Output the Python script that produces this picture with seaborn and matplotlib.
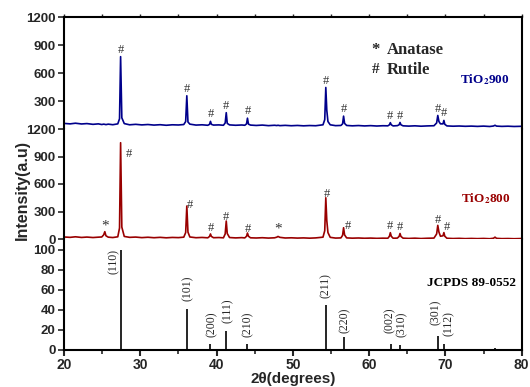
import numpy as np
import pandas as pd
import matplotlib
matplotlib.use("Agg")
import matplotlib.pyplot as plt
from matplotlib.ticker import MultipleLocator
import seaborn as sns

# ---------------- data ----------------
two_theta = [
    20.0, 20.8, 21.5, 22.3, 23.0, 23.8, 24.5, 24.95, 25.2, 25.35,
    25.5, 25.8, 26.4, 27.05, 27.28, 27.42, 27.58, 27.9, 28.6, 29.4,
    30.2, 31.0, 31.8, 32.6, 33.4, 34.2, 35.0, 35.7, 35.95, 36.1,
    36.25, 36.5, 37.3, 38.1, 38.85, 39.08, 39.2, 39.32, 39.6, 40.3,
    40.9, 41.13, 41.27, 41.4, 41.7, 42.5, 43.3, 43.7, 43.93, 44.05,
    44.18, 44.45, 45.2, 46.0, 46.8, 47.6, 47.9, 48.05, 48.3, 49.0,
    49.8, 50.6, 51.4, 52.2, 53.0, 53.95, 54.18, 54.32, 54.45, 54.6,
    54.9, 55.6, 56.3, 56.52, 56.65, 56.78, 57.05, 57.8, 58.6, 59.4,
    60.2, 61.0, 61.8, 62.45, 62.66, 62.78, 62.9, 63.15, 63.7, 63.93,
    64.05, 64.17, 64.45, 65.2, 66.0, 66.8, 67.6, 68.5, 68.85, 69.0,
    69.15, 69.35, 69.68, 69.8, 69.92, 70.2, 71.0, 71.8, 72.6, 73.4,
    74.2, 75.0, 75.8, 76.3, 76.5, 76.7, 77.4, 78.2, 79.0, 80.0,
]
intensity_900 = [
    60, 55, 62, 54, 58, 50, 55, 48, 52, 50,
    47, 52, 46, 55, 110, 775, 120, 58, 45, 50,
    44, 48, 42, 46, 40, 45, 43, 48, 80, 356,
    75, 52, 42, 45, 40, 50, 82, 50, 42, 44,
    40, 65, 175, 60, 44, 40, 43, 40, 55, 116,
    52, 42, 38, 42, 36, 40, 37, 40, 36, 39,
    35, 38, 34, 37, 35, 45, 100, 445, 200, 80,
    45, 36, 38, 55, 138, 60, 38, 34, 37, 33,
    36, 32, 35, 34, 45, 68, 45, 33, 36, 45,
    70, 45, 34, 31, 34, 30, 33, 35, 65, 145,
    80, 55, 55, 92, 50, 33, 30, 32, 29, 31,
    28, 31, 27, 32, 40, 31, 28, 30, 27, 29,
]
intensity_800 = [
    22, 18, 24, 17, 21, 16, 20, 22, 45, 80,
    35, 20, 16, 24, 120, 1050, 130, 28, 18, 21,
    15, 19, 14, 18, 13, 17, 15, 20, 70, 360,
    75, 22, 14, 17, 13, 28, 55, 28, 14, 16,
    13, 55, 196, 60, 16, 12, 15, 12, 30, 65,
    30, 13, 11, 14, 10, 13, 20, 28, 18, 11,
    13, 10, 12, 9, 12, 20, 90, 450, 200, 70,
    18, 10, 12, 40, 123, 45, 12, 9, 11, 8,
    10, 7, 9, 8, 30, 69, 30, 8, 10, 28,
    60, 28, 9, 6, 9, 5, 8, 10, 55, 149,
    75, 30, 35, 70, 30, 8, 5, 7, 4, 6,
    4, 6, 3, 8, 20, 7, 4, 5, 3, 5,
]
rutile_peaks = [27.42, 36.1, 39.2, 41.27, 44.05, 54.32, 56.65, 62.78, 64.05, 69.0, 69.8]
anatase_peaks_800 = [25.35, 48.05]

jcpds_pos = [27.45, 36.09, 39.19, 41.25, 44.05, 54.32, 56.64, 62.9, 64.04, 69.01, 69.79, 72.41, 76.51]
jcpds_int = [100, 41, 6, 19, 6, 45, 13, 6, 5, 14, 6, 1.5, 2]
jcpds_hkl = ["(110)", "(101)", "(200)", "(111)", "(210)", "(211)", "(220)",
             "(002)", "(310)", "(301)", "(112)"]

# ---------------- layout (positions only) ----------------
hkl_x = [26.55, 36.2, 39.35, 41.45, 44.1, 54.35, 56.85, 62.65, 64.25, 68.8, 70.5]
hkl_y = [88, 62, 26, 39, 26, 64, 30, 30, 26, 38, 26]
hash_off_900 = [(0, 5)] * 11
hash_off_800 = [(6, -8), (2, 1), (0, 4), (0, 3), (0, 3), (1, 3), (3, 1), (0, 5), (0, 5), (0, 4), (2, 4)]
star_off_800 = [(0, 4), (0, 5)]

BLUE = "#00008B"
RED = "#990000"

sns.set_style("ticks")
plt.rcParams["font.family"] = ["Liberation Sans", "DejaVu Sans"]
plt.rcParams["mathtext.fontset"] = "stix"

df = pd.DataFrame({"two_theta": two_theta, "i900": intensity_900, "i800": intensity_800})

fig = plt.figure(figsize=(5.3, 3.87), dpi=100)
gs = fig.add_gridspec(3, 1, left=64 / 530, right=521.7 / 530, top=1 - 17 / 387,
                      bottom=1 - 350 / 387, hspace=0, height_ratios=[112, 110, 111])
ax_top = fig.add_subplot(gs[0])
ax_mid = fig.add_subplot(gs[1], sharex=ax_top)
ax_bot = fig.add_subplot(gs[2], sharex=ax_top)

sns.lineplot(data=df, x="two_theta", y="i900", ax=ax_top, color=BLUE, lw=1.2, estimator=None)
sns.lineplot(data=df, x="two_theta", y="i800", ax=ax_mid, color=RED, lw=1.2, estimator=None)
ax_bot.vlines(jcpds_pos, 0, jcpds_int, color="black", lw=1.2)

ax_top.set_xlim(20, 80)
ax_top.set_ylim(0, 1200)
ax_mid.set_ylim(0, 1200)
ax_bot.set_ylim(0, 111)

for ax in (ax_top, ax_mid, ax_bot):
    ax.set_xlabel("")
    ax.set_ylabel("")
    for sp in ax.spines.values():
        sp.set_linewidth(1.5)
        sp.set_color("black")
    ax.tick_params(axis="y", direction="out", length=4, width=1.2, labelsize=9.5, pad=2)

ax_top.spines["bottom"].set_visible(False)
ax_mid.spines["top"].set_visible(False)
ax_mid.spines["bottom"].set_visible(False)
ax_bot.spines["top"].set_visible(False)

ax_top.set_yticks([300, 600, 900, 1200])
ax_mid.set_yticks([0, 300, 600, 900, 1200])
ax_bot.set_yticks([0, 20, 40, 60, 80, 100])
for ax in (ax_top, ax_mid, ax_bot):
    for lab in ax.get_yticklabels():
        lab.set_fontweight("bold")
        lab.set_fontsize(9.5)

ax_bot.xaxis.set_major_locator(MultipleLocator(10))
ax_bot.xaxis.set_minor_locator(MultipleLocator(5))
ax_top.tick_params(axis="x", which="both", bottom=False, top=True, labelbottom=False,
                   direction="out", length=2, width=1)
ax_mid.tick_params(axis="x", which="both", bottom=False, top=False, labelbottom=False)
ax_bot.tick_params(axis="x", which="major", direction="out", length=4, width=1.5,
                   labelsize=10, pad=2)
ax_bot.tick_params(axis="x", which="minor", direction="out", length=3, width=1.2)
for lab in ax_bot.get_xticklabels():
    lab.set_fontweight("bold")

ax_bot.set_xlabel("2θ(degrees)", fontsize=11, fontweight="bold", labelpad=0)
fig.text(22 / 530, 1 - 190 / 387, "Intensity(a.u)", rotation=90, ha="center",
         va="center", fontsize=11.5, fontweight="bold")

serif = ["Liberation Serif", "DejaVu Serif"]
mark_kw = dict(family=serif, fontsize=9, color="#333333", ha="center", va="center")

for p, off in zip(rutile_peaks, hash_off_900):
    h = np.interp(p, two_theta, intensity_900)
    ax_top.annotate("#", (p, h), xytext=off, textcoords="offset points", **mark_kw)
for p, off in zip(rutile_peaks, hash_off_800):
    h = np.interp(p, two_theta, intensity_800)
    ax_mid.annotate("#", (p, h), xytext=off, textcoords="offset points", **mark_kw)
for p, off in zip(anatase_peaks_800, star_off_800):
    h = np.interp(p, two_theta, intensity_800)
    ax_mid.annotate("*", (p, h), xytext=off, textcoords="offset points",
                    **{**mark_kw, "fontsize": 11})

for lbl, x, y in zip(jcpds_hkl, hkl_x, hkl_y):
    ax_bot.text(x, y, lbl, rotation=90, ha="center", va="center", family=serif, fontsize=8.5)

ax_top.text(60.8, 848, "*", ha="center", va="center", family=serif, fontsize=12, fontweight="bold")
ax_top.text(62.35, 848, "Anatase", ha="left", va="center", family=serif, fontsize=12, fontweight="bold")
ax_top.text(60.8, 636, "#", ha="center", va="center", family=serif, fontsize=11, fontweight="bold")
ax_top.text(62.35, 636, "Rutile", ha="left", va="center", family=serif, fontsize=12, fontweight="bold")

ax_top.text(71.9, 530, r"TiO$_\mathbf{2}$900", ha="left", va="center", family=serif,
            fontsize=9.5, fontweight="bold", color=BLUE)
ax_mid.text(72.0, 440, r"TiO$_\mathbf{2}$800", ha="left", va="center", family=serif,
            fontsize=9.5, fontweight="bold", color=RED)
ax_bot.text(67.6, 67, "JCPDS 89-0552", ha="left", va="center", family=serif,
            fontsize=9.5, fontweight="bold", color="black")

fig.savefig("out.png", dpi=100)
